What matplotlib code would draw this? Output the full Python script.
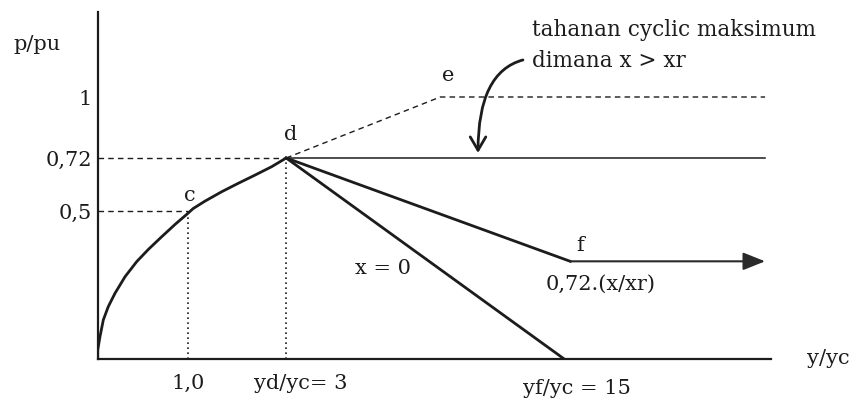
import numpy as np
import matplotlib
matplotlib.use("Agg")
import matplotlib.pyplot as plt
from matplotlib.transforms import ScaledTranslation

# ---------------- data (p/pu versus y/yc) ----------------
curve_y = [0.0, 0.0, 0.025, 0.062, 0.117, 0.191, 0.302, 0.431, 0.559, 0.707, 0.856,
           1.0, 1.10, 1.343, 1.684, 2.022, 2.363, 2.704, 3.0]
curve_p = [0.0, 0.030, 0.075, 0.132, 0.177, 0.222, 0.278, 0.329, 0.370, 0.413, 0.455,
           0.493, 0.510, 0.541, 0.580, 0.615, 0.649, 0.684, 0.72]

point_c = (1.0, 0.5)
point_d = (3.0, 0.72)
point_e = (9.65, 1.0)
point_f = (15.26, 0.33)
y_f = 15.0
y_end = 23.67          # where the right-hand lines stop

xtick_vals = [1.0, 3.0, 15.0]
xtick_labels = ["1,0", "yd/yc= 3", "yf/yc = 15"]
ytick_vals = [0.5, 0.72, 1.0]
ytick_labels = ["0,5", "0,72", "1"]

# ---------------- schematic (not-to-scale) axis scales ----------------
X_DATA = [-100, 0, 1, 3, 15, 100]
X_PIX = [-9050, 0, 90.5, 188.5, 466.5, 466.5 + 85 * 23.17]
Y_DATA = [-100, 0, 0.5, 0.72, 1.0, 100]
Y_PIX = [-29600, 0, 148, 201, 262, 262 + 99 * 218]

def xf(v):
    return np.interp(v, X_DATA, X_PIX)

def xi(v):
    return np.interp(v, X_PIX, X_DATA)

def yf_(v):
    return np.interp(v, Y_DATA, Y_PIX)

def yi(v):
    return np.interp(v, Y_PIX, Y_DATA)

ink = "#1c1c1c"
FS = 15
plt.rcParams["font.family"] = ["DejaVu Serif"]

W, H = 856, 412
fig = plt.figure(figsize=(W / 100, H / 100), dpi=100)
ax_left, ax_right, ax_bottom, ax_top = 97.7, 771, 359, 12
ax = fig.add_axes([ax_left / W, (H - ax_bottom) / H,
                   (ax_right - ax_left) / W, (ax_bottom - ax_top) / H])
ax.set_xscale("function", functions=(xf, xi))
ax.set_yscale("function", functions=(yf_, yi))
ax.set_xlim(0, float(xi(ax_right - ax_left)))
ax.set_ylim(0, float(yi(ax_bottom - ax_top)))

for s in ["top", "right"]:
    ax.spines[s].set_visible(False)
for s in ["left", "bottom"]:
    ax.spines[s].set_linewidth(1.6)
    ax.spines[s].set_color(ink)

ax.set_xticks(xtick_vals, xtick_labels)
ax.set_yticks(ytick_vals, ytick_labels)
ax.minorticks_off()
ax.tick_params(axis="both", length=0, labelsize=FS, colors=ink)
ax.tick_params(axis="x", pad=11)
ax.tick_params(axis="y", pad=4)
shifts = [(0, 0), (15, 0), (13, -5)]
for lab, (dx, dy) in zip(ax.get_xticklabels(), shifts):
    lab.set_transform(lab.get_transform() + ScaledTranslation(dx / 100, dy / 100, fig.dpi_scale_trans))

# backbone curve up to d
ax.plot(curve_y, curve_p, color=ink, lw=2.0, solid_joinstyle="round",
        solid_capstyle="round", zorder=3)

# dashed guides to c and d
ax.plot([0, point_c[0]], [point_c[1]] * 2, color=ink, lw=1.0, ls=(0, (4, 3)))
ax.plot([0, point_d[0]], [point_d[1]] * 2, color=ink, lw=1.0, ls=(0, (4, 3)))
# dotted verticals
ax.plot([point_c[0]] * 2, [0, point_c[1]], color=ink, lw=1.2, ls=(0, (1, 2)))
ax.plot([point_d[0]] * 2, [0, point_d[1]], color=ink, lw=1.2, ls=(0, (1, 2)))

# d -> e dashed, then horizontal dashed at 1
ax.plot([point_d[0], point_e[0], y_end], [point_d[1], point_e[1], point_e[1]],
        color=ink, lw=1.0, ls=(0, (4, 3)))
# solid plateau at 0.72
ax.plot([point_d[0], y_end], [point_d[1], point_d[1]], color=ink, lw=1.1)
# d -> f and d -> yf
ax.plot([point_d[0], point_f[0]], [point_d[1], point_f[1]], color=ink, lw=2.0,
        solid_joinstyle="round")
ax.plot([point_d[0], y_f], [point_d[1], 0], color=ink, lw=2.0)
# arrow from f
ax.annotate("", xy=(y_end, point_f[1]), xytext=(point_f[0], point_f[1]),
            arrowprops=dict(arrowstyle="-|>,head_length=0.75,head_width=0.3",
                            color="#2a2a2a", lw=1.5, shrinkA=0, shrinkB=0,
                            mutation_scale=18))

# point letters
tk = dict(textcoords="offset pixels", ha="center", va="center", fontsize=FS, color=ink)
ax.annotate("c", point_c, xytext=(2, 16), **tk)
ax.annotate("d", point_d, xytext=(4, 23), **tk)
ax.annotate("e", point_e, xytext=(8, 22), **tk)
ax.annotate("f", point_f, xytext=(10, 16), **tk)
ax.annotate("0,72.(x/xr)", point_f, xytext=(30, -23), **tk)
ax.text(7.18, 0.307, "x = 0", ha="center", va="center", fontsize=FS, color=ink)

# curved arrow to plateau
ax.annotate("", xy=(11.28, 0.743), xytext=(13.22, 1.17),
            arrowprops=dict(arrowstyle="->,head_length=0.6,head_width=0.35",
                            connectionstyle="angle3,angleA=15,angleB=90",
                            color=ink, lw=2.0, shrinkA=0, shrinkB=0,
                            mutation_scale=16))

fig.text(532 / W, 1 - 30 / H, "tahanan cyclic maksimum", ha="left", va="center",
         fontsize=15.5, color=ink)
fig.text(532 / W, 1 - 61 / H, "dimana x > xr", ha="left", va="center",
         fontsize=15.5, color=ink)
fig.text(13 / W, 1 - 45 / H, "p/pu", ha="left", va="center", fontsize=FS, color=ink)
fig.text(828 / W, 1 - 358 / H, "y/yc", ha="center", va="center", fontsize=FS, color=ink)

fig.savefig("out.png", dpi=100, facecolor="white")
